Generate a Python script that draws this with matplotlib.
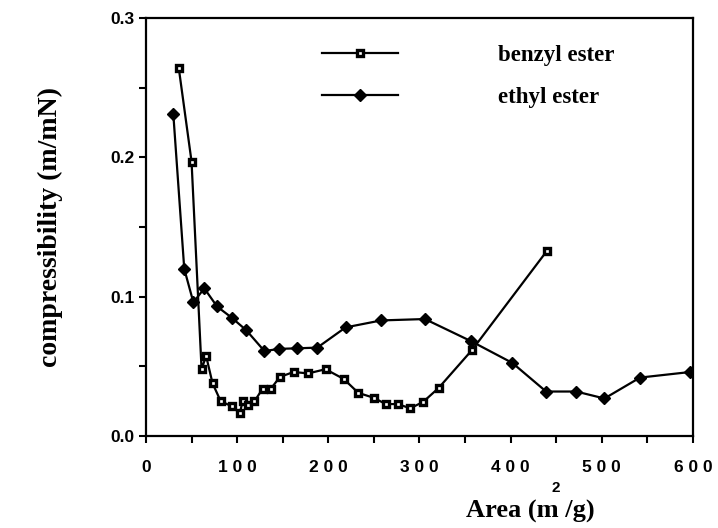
import matplotlib.pyplot as plt

# benzyl ester (open squares)
benzyl_x = [36, 50, 61, 66, 73, 82, 94, 103, 106, 112, 119, 128, 137, 147, 162, 178,
            197, 217, 233, 250, 263, 276, 290, 304, 321, 358, 440]
benzyl_y = [0.264, 0.197, 0.048, 0.0575, 0.038, 0.025, 0.0215, 0.0165, 0.025, 0.022, 0.025,
            0.034, 0.034, 0.0425, 0.046, 0.045, 0.048, 0.041, 0.031, 0.0275, 0.023, 0.023,
            0.020, 0.0245, 0.0345, 0.062, 0.133]

# ethyl ester (filled diamonds)
ethyl_x = [30, 42, 52, 64, 78, 94, 110, 130, 146, 166, 188, 219, 258, 306, 357, 402,
           439, 472, 503, 542, 597]
ethyl_y = [0.231, 0.120, 0.096, 0.106, 0.093, 0.085, 0.076, 0.061, 0.0626, 0.063, 0.0635,
           0.078, 0.083, 0.084, 0.068, 0.0525, 0.032, 0.032, 0.027, 0.042, 0.046]

xticks = [0, 100, 200, 300, 400, 500, 600]
xtick_labels = ['0', '1 0 0', '2 0 0', '3 0 0', '4 0 0', '5 0 0', '6 0 0']
yticks = [0.0, 0.1, 0.2, 0.3]
ytick_labels = ['0.0', '0.1', '0.2', '0.3']

serif = 'Liberation Serif'
sans = 'Liberation Sans'

fig = plt.figure(figsize=(7.18, 5.28), dpi=100)
ax = fig.add_axes([0.2033, 0.174, 0.7617, 0.792])

ax.plot(benzyl_x, benzyl_y, color='black', linewidth=1.6, marker='s', markersize=4.8,
        markerfacecolor='white', markeredgecolor='black', markeredgewidth=2.4,
        label='benzyl ester')
ax.plot(ethyl_x, ethyl_y, color='black', linewidth=1.6, marker='D', markersize=6,
        markerfacecolor='black', markeredgecolor='black', label='ethyl ester')

ax.set_xlim(0, 600)
ax.set_ylim(0, 0.3)
ax.set_xticks(xticks)
ax.set_xticks(range(0, 601, 50), minor=True)
ax.set_yticks(yticks)
ax.set_yticks([0.05, 0.15, 0.25], minor=True)
ax.set_xticklabels(xtick_labels, fontfamily=sans, fontweight='bold', fontsize=12.5)
ax.set_yticklabels(ytick_labels, fontfamily=sans, fontweight='bold', fontsize=12.5)
ax.tick_params(which='both', direction='out', width=1.5, length=5)
ax.tick_params(axis='x', pad=12)
for s in ax.spines.values():
    s.set_linewidth(1.6)

ax.set_ylabel('compressibility (m/mN)', fontfamily=serif, fontweight='bold', fontsize=20,
              labelpad=34)
ax.text(0.703, -0.18, 'Area (m /g)', transform=ax.transAxes, ha='center', va='center',
        fontfamily=serif, fontweight='bold', fontsize=19)
ax.text(0.750, -0.124, '2', transform=ax.transAxes, ha='center', va='center',
        fontfamily=sans, fontweight='bold', fontsize=11)

ax.legend(loc='upper right', bbox_to_anchor=(0.895, 0.985), frameon=False, numpoints=1,
          handlelength=3.3, handletextpad=4.4, labelspacing=0.9,
          prop={'family': serif, 'weight': 'bold', 'size': 16.5})

fig.savefig('out.png', dpi=100)
